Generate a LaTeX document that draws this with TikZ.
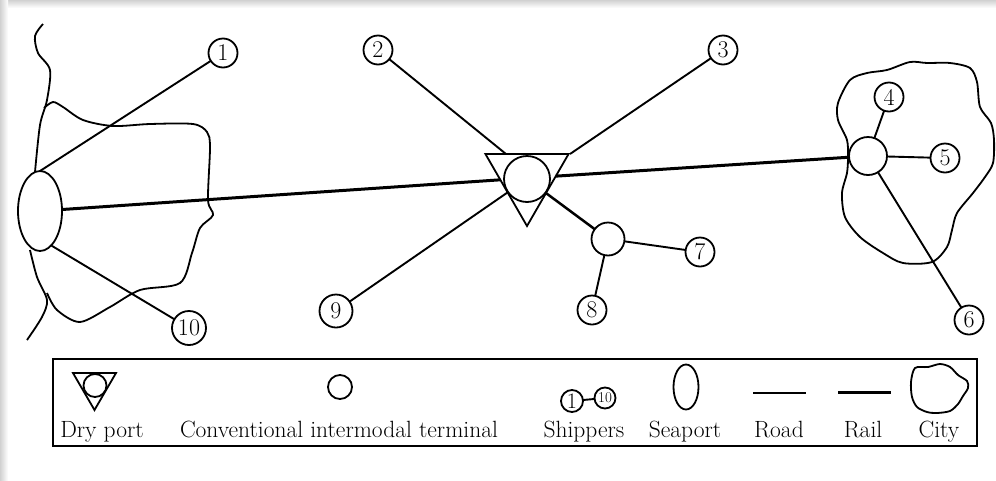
\documentclass[tikz,border=0pt]{standalone}
\usepackage{fontspec}
\usetikzlibrary{shapes.geometric}
\tikzset{
  road/.style={line width=1.9pt},
  rail/.style={line width=3pt},
  outline/.style={line width=1.8pt},
  ship/.style={circle, draw, line width=1.8pt, inner sep=0pt, outer sep=0pt, minimum size=29pt, font=\fontsize{24}{28}\selectfont},
  term/.style={circle, draw, line width=1.8pt, inner sep=0pt, outer sep=0pt},
  lab/.style={anchor=base, inner sep=0pt, font=\fontsize{23.5}{28}\selectfont}
}
\begin{document}
\begin{tikzpicture}[x=1pt,y=-1pt]
\useasboundingbox (0,0) rectangle (996,480);
\fill[white] (0,0) rectangle (996,480);
\shade[top color=black!18, bottom color=white] (0,0) rectangle (996,8);
\shade[left color=black!18, right color=white] (0,0) rectangle (8,480);

% land / coast
\draw[outline] plot[smooth] coordinates {(43,24) (35,36) (38,53) (50,70) (47,100) (40,125) (35,172)};
\draw[outline] plot[smooth] coordinates {(44,108) (53,102) (63,107) (83,120) (113,126) (150,124) (193,124) (207,132) (210,147) (208,200) (213,215) (200,228) (192,253) (180,283) (140,290) (110,307) (80,322) (57,310) (47,293)};
\draw[outline] plot[smooth] coordinates {(30,250) (37,277) (47,300) (42,317) (27,340)};

% city
\draw[outline] plot[smooth cycle] coordinates {(850,80) (867,73) (887,70) (910,62) (927,63) (950,63) (970,68) (977,82) (980,107) (991,123) (994,140) (993,163) (985,177) (973,193) (957,213) (952,230) (947,247) (932,262) (903,263) (883,253) (860,237) (845,217) (842,193) (847,173) (848,157) (847,140) (838,120) (838,103)};

% nodes
\node[ellipse, draw, line width=1.8pt, minimum width=44pt, minimum height=80pt, inner sep=0pt, outer sep=0pt] (sea) at (40,211) {};
\node[regular polygon, regular polygon sides=3, shape border rotate=180, draw, line width=1.8pt, minimum size=96pt, inner sep=0pt, outer sep=0pt] (dp) at (527,178) {};
\node[term, minimum size=46pt] (dpc) at (527,179) {};
\node[term, minimum size=33pt] (t2) at (608,239) {};
\node[term, minimum size=38pt] (tc) at (868,156) {};
\coordinate (dpa) at (506,154);
\coordinate (dpb) at (570,154);

\node[ship] (n1) at (223,53) {1};
\node[ship] (n2) at (378,50) {2};
\node[ship] (n3) at (723,50) {3};
\node[ship] (n4) at (889,97) {4};
\node[ship] (n5) at (945,158) {5};
\node[ship] (n6) at (969,320) {6};
\node[ship] (n7) at (700,252) {7};
\node[ship] (n8) at (592,310) {8};
\node[ship, minimum size=33pt] (n9) at (336,311) {9};
\node[ship, minimum size=34pt] (n10) at (189,328) {10};

% rail
\draw[rail] (sea) -- (dp);
\draw[rail] (dp) -- (tc);
\draw[rail, line width=2.5pt] (dpc) -- (t2);
% roads
\draw[road] (sea.north) -- (n1);
\draw[road] (sea.-72) -- (n10);
\draw[road] (n2) -- (dpa);
\draw[road] (n3) -- (dpb);
\draw[road] (dpc) -- (n9);
\draw[road] (t2) -- (n7);
\draw[road] (t2) -- (n8);
\draw[road] (tc) -- (n4);
\draw[road] (tc) -- (n5);
\draw[road] (tc) -- (n6);

% legend
\draw[line width=1.8pt] (53,359) rectangle (977,446);
\draw[outline] (73,373) -- (116,373) -- (94.5,410) -- cycle;
\node[term, minimum size=23pt] (ldpc) at (95,385.5) {};
\node[lab] (ldp) at (102,437) {Dry port};
\node[term, minimum size=24pt] (lt) at (340,387) {};
\node[lab] (ltl) at (339,437) {Conventional intermodal terminal};
\node[term, minimum size=22pt, font=\fontsize{22}{26}\selectfont] (ls1) at (572,401) {1};
\node[term, minimum size=21pt, font=\fontsize{15}{18}\selectfont] (ls10) at (605,398) {10};
\draw[road] (ls1) -- (ls10);
\node[lab] (lsl) at (584,437) {Shippers};
\node[ellipse, draw, line width=1.8pt, minimum width=25pt, minimum height=45pt, inner sep=0pt] (lsea) at (686,387) {};
\node[lab] (lseal) at (685,437) {Seaport};
\coordinate (lra) at (753,393);
\coordinate (lrb) at (806,393);
\draw[road] (lra) -- (lrb);
\node[lab] (lrl) at (779,437) {Road};
\coordinate (lla) at (838,392);
\coordinate (llb) at (891,392);
\draw[rail] (lla) -- (llb);
\node[lab] (lll) at (863,437) {Rail};
\draw[outline] plot[smooth cycle] coordinates {(915,368) (928,367) (940,364) (950,367) (958,375) (967,381) (968,388) (963,396) (958,404) (950,411) (937,413) (927,412) (917,407) (912,397) (911,382)};
\node[lab] (lcl) at (939,437) {City};
\end{tikzpicture}
\end{document}
